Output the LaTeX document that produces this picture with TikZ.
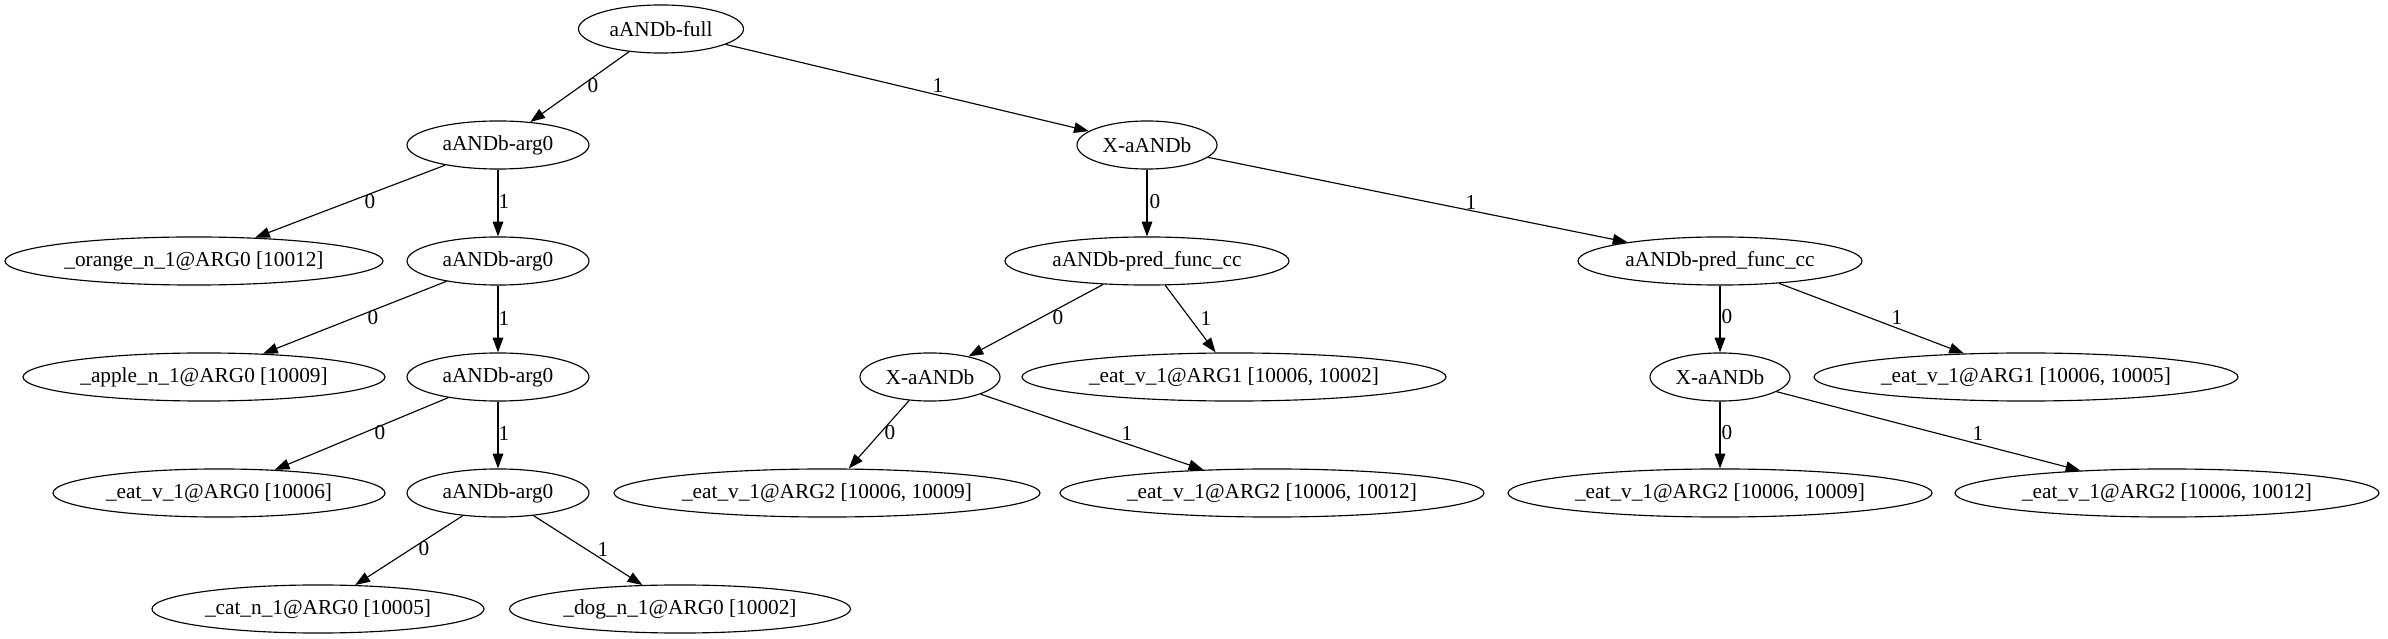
\documentclass[tikz,border=0pt]{standalone}
\usepackage{fontspec}
\setmainfont{Liberation Serif}
\usetikzlibrary{arrows.meta,shapes.geometric}
\begin{document}
\begin{tikzpicture}[x=0.6575pt,y=-0.6575pt,
  every node/.style={font=\fontsize{14}{16}\selectfont},
  nd/.style={draw,ellipse,line width=0.75pt,inner sep=0pt,minimum height=31.6pt,minimum width={#1*0.6575pt}},
  edge/.style={draw,line width=0.75pt,-{Triangle[length=9.7pt,width=7pt]}},
  lbl/.style={inner sep=0pt}]
\useasboundingbox (0,0) rectangle (2388,639);
% left chain
\node[nd=165] (full) at (661,29) {aANDb-full};
\node[nd=182] (a1) at (498,145) {aANDb-arg0};
\node[nd=378] (orange) at (194,261) {\_orange\_n\_1@ARG0 [10012]};
\node[nd=182] (a2) at (498,261) {aANDb-arg0};
\node[nd=362] (apple) at (204,377) {\_apple\_n\_1@ARG0 [10009]};
\node[nd=182] (a3) at (498,377) {aANDb-arg0};
\node[nd=332] (eat0) at (219,493) {\_eat\_v\_1@ARG0 [10006]};
\node[nd=182] (a4) at (498,493) {aANDb-arg0};
\node[nd=332] (cat) at (318,609) {\_cat\_n\_1@ARG0 [10005]};
\node[nd=341] (dog) at (680,609) {\_dog\_n\_1@ARG0 [10002]};
% right part
\node[nd=140] (x1) at (1147,145) {X-aANDb};
\node[nd=284] (p1) at (1147,261) {aANDb-pred\_func\_cc};
\node[nd=284] (p2) at (1720,261) {aANDb-pred\_func\_cc};
\node[nd=140] (x2) at (930,377) {X-aANDb};
\node[nd=424] (g1) at (1234,377) {\_eat\_v\_1@ARG1 [10006, 10002]};
\node[nd=140] (x3) at (1720,377) {X-aANDb};
\node[nd=424] (g2) at (2026,377) {\_eat\_v\_1@ARG1 [10006, 10005]};
\node[nd=426] (h1) at (827,493) {\_eat\_v\_1@ARG2 [10006, 10009]};
\node[nd=424] (h2) at (1272,493) {\_eat\_v\_1@ARG2 [10006, 10012]};
\node[nd=424] (h3) at (1720,493) {\_eat\_v\_1@ARG2 [10006, 10009]};
\node[nd=424] (h4) at (2167,493) {\_eat\_v\_1@ARG2 [10006, 10012]};
% edges
\path[edge] (full) -- (a1);   \node[lbl] (e1) at (593,86) {0};
\path[edge] (full) -- (x1);   \node[lbl] (e2) at (938,85) {1};
\path[edge] (a1) -- (orange); \node[lbl] (e3) at (370,202) {0};
\path[edge] (a1) -- (a2);     \node[lbl] (e4) at (504,201) {1};
\path[edge] (a2) -- (apple);  \node[lbl] (e5) at (373,318) {0};
\path[edge] (a2) -- (a3);     \node[lbl] (e6) at (504,318) {1};
\path[edge] (a3) -- (eat0);   \node[lbl] (e7) at (380,433) {0};
\path[edge] (a3) -- (a4);     \node[lbl] (e8) at (504,433) {1};
\path[edge] (a4) -- (cat);    \node[lbl] (e9) at (424,549) {0};
\path[edge] (a4) -- (dog);    \node[lbl] (e10) at (603,549) {1};
\path[edge] (x1) -- (p1);     \node[lbl] (e11) at (1155,202) {0};
\path[edge] (x1) -- (p2);     \node[lbl] (e12) at (1471,202) {1};
\path[edge] (p1) -- (x2);     \node[lbl] (e13) at (1058,318) {0};
\path[edge] (p1) -- (g1);     \node[lbl] (e14) at (1206,318) {1};
\path[edge] (x2) -- (h1);     \node[lbl] (e15) at (890,433) {0};
\path[edge] (x2) -- (h2);     \node[lbl] (e16) at (1127,433) {1};
\path[edge] (p2) -- (x3);     \node[lbl] (e17) at (1727,317) {0};
\path[edge] (p2) -- (g2);     \node[lbl] (e18) at (1897,317) {1};
\path[edge] (x3) -- (h3);     \node[lbl] (e19) at (1727,433) {0};
\path[edge] (x3) -- (h4);     \node[lbl] (e20) at (1978,433) {1};
\end{tikzpicture}
\end{document}
